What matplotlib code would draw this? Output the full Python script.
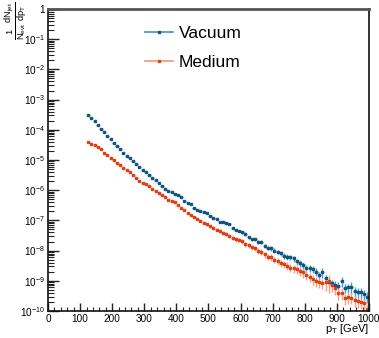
import numpy as np
import matplotlib.pyplot as plt
from matplotlib.lines import Line2D
from matplotlib.ticker import FixedLocator, MultipleLocator

plt.rcParams['font.family'] = ['Liberation Sans', 'DejaVu Sans']
plt.rcParams['mathtext.fontset'] = 'custom'
plt.rcParams['mathtext.rm'] = 'Liberation Sans'
plt.rcParams['mathtext.it'] = 'Liberation Sans'

# bins: 120-1000 GeV, 10 GeV wide
pt_lo, pt_hi, bin_w = 120, 1000, 10

# log10 of 1/N dN/dpT
log_vacuum = [
    -3.52, -3.62, -3.72, -3.85, -3.96, -4.08, -4.21, -4.32, -4.44, -4.54,
    -4.65, -4.76, -4.86, -4.95, -5.04, -5.14, -5.23, -5.32, -5.41, -5.51,
    -5.60, -5.67, -5.77, -5.87, -5.95, -6.02, -6.07, -6.11, -6.17, -6.22,
    -6.35, -6.43, -6.47, -6.58, -6.64, -6.70, -6.73, -6.76, -6.84, -6.91,
    -6.95, -7.04, -7.06, -7.10, -7.12, -7.25, -7.32, -7.35, -7.40, -7.45,
    -7.55, -7.62, -7.63, -7.70, -7.72, -7.85, -7.92, -7.93, -8.00, -8.04,
    -8.09, -8.17, -8.20, -8.22, -8.26, -8.36, -8.42, -8.48, -8.56, -8.59,
    -8.62, -8.70, -8.80, -8.72, -8.92, -9.03, -9.08, -9.14, -9.16, -9.01,
    -9.23, -9.22, -9.20, -9.33, -9.38, -9.38, -9.45, -9.53]
log_medium = [
    -4.42, -4.47, -4.52, -4.58, -4.65, -4.76, -4.83, -4.92, -4.99, -5.09,
    -5.17, -5.25, -5.33, -5.41, -5.50, -5.58, -5.68, -5.75, -5.81, -5.86,
    -5.97, -6.02, -6.09, -6.15, -6.23, -6.33, -6.37, -6.40, -6.50, -6.58,
    -6.65, -6.75, -6.81, -6.88, -6.95, -7.02, -7.07, -7.13, -7.20, -7.25,
    -7.31, -7.35, -7.42, -7.45, -7.52, -7.58, -7.63, -7.64, -7.68, -7.78,
    -7.83, -7.89, -7.92, -8.00, -8.04, -8.12, -8.20, -8.22, -8.30, -8.33,
    -8.40, -8.45, -8.50, -8.57, -8.58, -8.62, -8.66, -8.72, -8.80, -8.86,
    -8.95, -9.01, -9.03, -9.08, -9.05, -9.01, -9.14, -9.25, -9.42, -9.40,
    -9.58, -9.55, -9.56, -9.65, -9.67, -9.71, -9.74, -9.93]

# relative errors per bin
relerr_vacuum = [
    0.02, 0.02, 0.02, 0.02, 0.02, 0.02, 0.02, 0.02, 0.02, 0.02,
    0.03, 0.03, 0.03, 0.03, 0.03, 0.03, 0.03, 0.03, 0.03, 0.03,
    0.04, 0.04, 0.04, 0.04, 0.04, 0.04, 0.05, 0.05, 0.05, 0.05,
    0.05, 0.05, 0.06, 0.06, 0.06, 0.06, 0.07, 0.07, 0.07, 0.08,
    0.08, 0.08, 0.09, 0.09, 0.10, 0.10, 0.10, 0.11, 0.11, 0.12,
    0.12, 0.13, 0.13, 0.14, 0.15, 0.15, 0.16, 0.17, 0.18, 0.18,
    0.19, 0.20, 0.20, 0.21, 0.22, 0.23, 0.24, 0.24, 0.25, 0.26,
    0.27, 0.28, 0.28, 0.35, 0.30, 0.30, 0.31, 0.32, 0.33, 0.35,
    0.34, 0.35, 0.40, 0.36, 0.37, 0.38, 0.38, 0.39]
relerr_medium = [
    0.03, 0.03, 0.03, 0.03, 0.03, 0.03, 0.03, 0.03, 0.03, 0.03,
    0.04, 0.04, 0.04, 0.04, 0.04, 0.04, 0.04, 0.05, 0.05, 0.05,
    0.05, 0.05, 0.06, 0.06, 0.06, 0.06, 0.07, 0.07, 0.07, 0.08,
    0.08, 0.08, 0.09, 0.09, 0.10, 0.10, 0.10, 0.11, 0.11, 0.12,
    0.12, 0.13, 0.13, 0.14, 0.15, 0.15, 0.16, 0.17, 0.18, 0.18,
    0.19, 0.20, 0.20, 0.21, 0.22, 0.23, 0.24, 0.24, 0.25, 0.26,
    0.27, 0.28, 0.28, 0.29, 0.30, 0.31, 0.32, 0.33, 0.34, 0.35,
    0.35, 0.36, 0.37, 0.38, 0.50, 0.60, 0.40, 0.40, 0.40, 0.40,
    0.40, 0.40, 0.40, 0.40, 0.40, 0.40, 0.40, 0.40]

assert len(log_vacuum) == len(log_medium) == 88

pt = np.arange(pt_lo + bin_w / 2, pt_hi, bin_w)

fig = plt.figure(figsize=(3.79, 3.38), dpi=100)
ax = fig.add_axes([0.1266, 0.0799, 0.847, 0.8935])

series = [
    ('Vacuum', log_vacuum, relerr_vacuum, '#14557e', '#4f9ccc'),
    ('Medium', log_medium, relerr_medium, '#dd3f18', '#f5a080'),
]
handles = []
for name, logv, rel, dark, light in series:
    y = 10.0 ** np.array(logv)
    ye = y * np.array(rel)
    ax.errorbar(pt, y, xerr=bin_w / 2, yerr=ye, fmt='s', ms=1.6,
                mfc=dark, mec=dark, ecolor=light, elinewidth=1.0,
                capsize=0)
    handles.append(Line2D([], [], color=light, lw=1.3, marker='s', ms=1.4,
                          mfc=dark, mec=dark, label=name))

ax.set_yscale('log')
ax.set_xlim(0, 1000)
ax.set_ylim(1e-10, 1)

ax.xaxis.set_major_locator(MultipleLocator(100))
ax.xaxis.set_minor_locator(MultipleLocator(20))
decades = list(range(-10, 1))
ax.yaxis.set_major_locator(FixedLocator([10.0 ** d for d in decades]))
ax.set_yticklabels(['1' if d == 0 else r'$10^{%d}$' % d for d in decades])
minors = [m * 10.0 ** d for d in range(-10, 0) for m in range(2, 10)]
ax.yaxis.set_minor_locator(FixedLocator(minors))
ax.yaxis.set_minor_formatter(plt.NullFormatter())

ax.tick_params(which='both', direction='in', top=False, right=False,
               labelsize=7.2, color='#222222', pad=2)
ax.tick_params(axis='y', which='major', length=8, width=1)
ax.tick_params(axis='y', which='minor', length=4, width=0.8)
ax.tick_params(axis='x', which='major', length=6, width=1)
ax.tick_params(axis='x', which='minor', length=3, width=0.8)

ax.spines['top'].set_color('#555555')
ax.spines['top'].set_linewidth(2)
for s in ['left', 'right', 'bottom']:
    ax.spines[s].set_color('#111111')
    ax.spines[s].set_linewidth(1.2)

ax.legend(handles=handles, loc='upper left', bbox_to_anchor=(0.255, 0.995),
          frameon=False, fontsize=12.5, handlelength=1.6, labelspacing=0.8,
          handletextpad=0.3)

fig.text(0.9736, 0.005, r'$p_{T}$ [GeV]', ha='right', va='bottom', fontsize=8)
fig.text(0.040, 0.995, r'$\frac{1}{N_{evt}}\frac{dN_{jet}}{dp_{T}}$',
         rotation=90, ha='center', va='top', fontsize=9.5)

fig.savefig('out.png', dpi=100)
